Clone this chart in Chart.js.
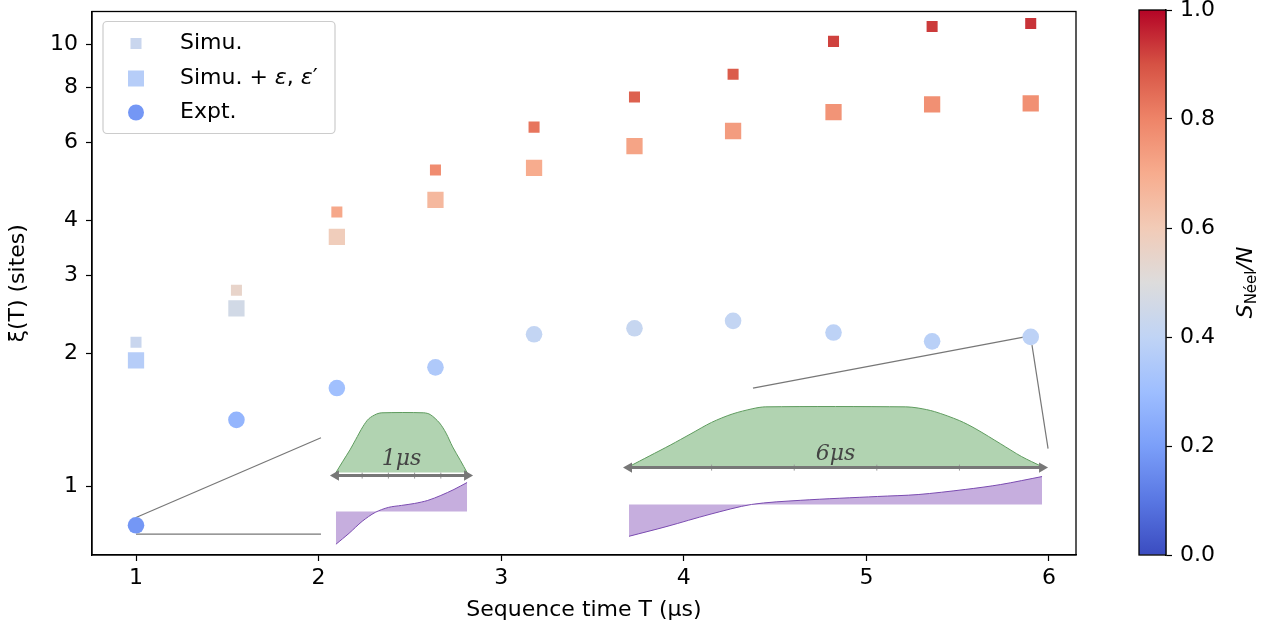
<!DOCTYPE html>
<html><head><meta charset="utf-8">
<script src="https://cdn.jsdelivr.net/npm/chart.js@4.4.1/dist/chart.umd.min.js"></script>
<style>html,body{margin:0;padding:0;background:#fff;}#wrap{position:relative;width:1266px;height:634px;}canvas{position:absolute;top:0;}</style>
</head><body><div id="wrap"><canvas id="main" width="1266" height="634" style="left:0"></canvas><canvas id="cbar" width="146" height="634" style="left:1120px"></canvas></div>
<script>
// ---- data ----
const seqTime = [1, 1.55, 2.1, 2.64, 3.18, 3.73, 4.27, 4.82, 5.36, 5.9];
const simuXi = [2.12, 2.78, 4.18, 5.20, 6.50, 7.60, 8.56, 10.16, 10.98, 11.15];
const simuEpsXi = [1.93, 2.53, 3.67, 4.45, 5.26, 5.89, 6.37, 7.03, 7.32, 7.36];
const exptXi = [0.817, 1.415, 1.67, 1.86, 2.21, 2.28, 2.37, 2.23, 2.13, 2.18];
const simuNeel = [0.43, 0.55, 0.71, 0.78, 0.83, 0.87, 0.88, 0.92, 0.93, 0.94];
const simuEpsNeel = [0.37, 0.46, 0.59, 0.66, 0.70, 0.72, 0.74, 0.76, 0.77, 0.77];
const exptNeel = [0.18, 0.27, 0.31, 0.35, 0.41, 0.42, 0.41, 0.39, 0.38, 0.39];
const yTicks = [1, 2, 3, 4, 6, 8, 10];
const xTicks = [1, 2, 3, 4, 5, 6];
const cbarTicks = [0, 0.2, 0.4, 0.6, 0.8, 1.0];
const legendLabels = ['Simu.', 'Simu. + ε, ε′', 'Expt.'];

// inset pulse shapes (normalised time, normalised amplitude)
const pulse1T = [0, .05, .107, .15, .206, .25, .31, .35, .67, .72, .79, .84, .89, .95, 1];
const pulse1Omega = [0, .18, .38, .55, .77, .9, .98, 1, 1, .97, .83, .66, .43, .2, 0];
const pulse1DeltaT = [0, .1, .2, .3, .4, .5, .6, .7, .8, .9, 1];
const pulse1Delta = [-1, -.667, -.303, -.03, .121, .182, .242, .333, .485, .667, .879];
const pulse6T = [0, .05, .1, .15, .2, .25, .3, .33, .67, .7, .74, .8, .84, .9, .95, 1];
const pulse6Omega = [0, .18, .36, .55, .74, .88, .97, 1, 1, .98, .92, .77, .63, .38, .17, 0];
const pulse6DeltaT = [0, .092, .196, .297, .416, .602, .7, .814, .9, 1];
const pulse6Delta = [-1, -.69, -.31, 0, .13, .25, .31, .47, .625, .875];
const arrowTickT = [.2, .4, .6, .8];
// inset placement in axis units: [xStart, xEnd, omegaBase, omegaTop, arrowY, deltaBase, deltaUnit]
const inset1 = [2.095, 2.813, 1.0753, 1.468, 1.0587, 0.8785, 1.0424];
const inset6 = [3.700, 5.962, 1.1092, 1.5143, 1.1035, 0.9109, 1.0753];
const zoomLine1 = [[1, 0.851], [2.013, 1.289]];
const zoomLine2 = [[1, 0.780], [2.013, 0.780]];
const zoomLine3 = [[4.379, 1.670], [5.890, 2.188]];
const zoomLine4 = [[5.907, 2.088], [5.995, 1.218]];

// ---- colormap (coolwarm) ----
const cwStops = ['#3b4cc0', '#5977e3', '#7b9ff9', '#9ebeff', '#c0d4f5', '#dddcdc', '#f2cbb7', '#f7ac8e', '#ee8468', '#d65244', '#b40426'];
function hex2rgb(h) { return [parseInt(h.slice(1, 3), 16), parseInt(h.slice(3, 5), 16), parseInt(h.slice(5, 7), 16)]; }
function cmap(v) {
  const p = Math.max(0, Math.min(1, v)) * 10;
  const i = Math.min(9, Math.floor(p)); const f = p - i;
  const a = hex2rgb(cwStops[i]), b = hex2rgb(cwStops[i + 1]);
  return 'rgb(' + a.map((c, k) => Math.round(c + (b[k] - c) * f)).join(',') + ')';
}

function placeShape(ts, vs, ins, base, unit) {
  return ts.map((t, i) => ({ x: ins[0] + t * (ins[1] - ins[0]), y: base * Math.pow(unit / base, vs[i]) }));
}
const pts = arr => seqTime.map((x, i) => ({ x, y: arr[i] }));
const seg = s => s.map(p => ({ x: p[0], y: p[1] }));

const FONT = 'DejaVu Sans';
const GREEN_F = 'rgba(120,180,120,0.58)', GREEN_L = '#5e9b5e';
const PURP_F = 'rgba(160,120,200,0.6)', PURP_L = '#7a4bb0';

function insetSets(ins) {
  const T = ins === inset1 ? pulse1T : pulse6T;
  const O = ins === inset1 ? pulse1Omega : pulse6Omega;
  const DT = ins === inset1 ? pulse1DeltaT : pulse6DeltaT;
  const D = ins === inset1 ? pulse1Delta : pulse6Delta;
  return [
    { type: 'line', data: placeShape(T, O, ins, ins[2], ins[3]), borderColor: GREEN_L, borderWidth: 1, backgroundColor: GREEN_F,
      fill: { value: ins[2] }, pointRadius: 0, tension: 0.3, order: 10 },
    { type: 'line', data: placeShape(DT, D, ins, ins[5], ins[6]), borderColor: PURP_L, borderWidth: 1, backgroundColor: PURP_F,
      fill: { value: ins[5] }, pointRadius: 0, tension: 0.3, order: 10 },
    { type: 'line', data: [{ x: ins[0], y: ins[4] }, { x: ins[1], y: ins[4] }], borderColor: '#777', borderWidth: 3,
      pointStyle: 'triangle', pointRotation: [-90, 90], pointRadius: 6, pointBackgroundColor: '#777', pointBorderWidth: 0, fill: false, order: 9 },
    { type: 'scatter', data: arrowTickT.map(t => ({ x: ins[0] + t * (ins[1] - ins[0]), y: ins[4] })), pointStyle: 'line', pointRotation: 90,
      pointRadius: 3, borderColor: '#999', borderWidth: 1, order: 9 }
  ];
}
const lineSet = s => ({ type: 'line', data: seg(s), borderColor: '#777', borderWidth: 1.2, pointRadius: 0, fill: false, order: 8 });

const framePlugin = {
  id: 'frame',
  afterDraw(chart) {
    const { ctx, chartArea: a, scales } = chart;
    ctx.save();
    ctx.strokeStyle = '#000'; ctx.lineWidth = 1.3;
    ctx.strokeRect(a.left, a.top, a.right - a.left, a.bottom - a.top);
    // inset labels
    ctx.fillStyle = '#444'; ctx.font = 'italic 22px "DejaVu Serif"'; ctx.textAlign = 'center'; ctx.textBaseline = 'middle';
    ctx.fillText('1μs', scales.x.getPixelForValue((inset1[0] + inset1[1]) / 2), scales.y.getPixelForValue(1.150));
    ctx.fillText('6μs', scales.x.getPixelForValue((inset6[0] + inset6[1]) / 2), scales.y.getPixelForValue(1.180));
    // legend
    const bx = a.left + 11, by = a.top + 10, bw = 232, bh = 112;
    ctx.beginPath();
    if (ctx.roundRect) ctx.roundRect(bx, by, bw, bh, 4); else ctx.rect(bx, by, bw, bh);
    ctx.fillStyle = 'rgba(255,255,255,0.85)'; ctx.fill();
    ctx.strokeStyle = '#cccccc'; ctx.lineWidth = 1.2; ctx.stroke();
    const mx = bx + 33, rows = [by + 22, by + 57, by + 91];
    ctx.fillStyle = cmap(simuNeel[0]); ctx.fillRect(mx - 5.5, rows[0] - 5.5, 11, 11);
    ctx.fillStyle = cmap(simuEpsNeel[0]); ctx.fillRect(mx - 8, rows[1] - 8, 16, 16);
    ctx.fillStyle = cmap(exptNeel[0]); ctx.beginPath(); ctx.arc(mx, rows[2], 8, 0, Math.PI * 2); ctx.fill();
    ctx.fillStyle = '#000'; ctx.textAlign = 'left'; ctx.textBaseline = 'middle';
    const tx = bx + 77;
    ctx.font = '22px "' + FONT + '"';
    ctx.fillText(legendLabels[0], tx, rows[0]);
    ctx.fillText(legendLabels[2], tx, rows[2]);
    // mixed style for second label
    let x = tx;
    const parts = [['Simu. + ', false], ['ε', true], [', ', false], ['ε', true], ['′', false]];
    parts.forEach(([s, it]) => {
      ctx.font = (it ? 'italic ' : '') + '22px "' + FONT + '"';
      ctx.fillText(s, x, rows[1]); x += ctx.measureText(s).width;
    });
    ctx.restore();
  }
};
const noVPad = s => { s.paddingTop = 0; s.paddingBottom = 0; };

new Chart(document.getElementById('main'), {
  type: 'scatter',
  data: {
    datasets: [
      { label: legendLabels[0], data: pts(simuXi), pointStyle: 'rect', pointRadius: 7.8, pointHoverRadius: 7.8,
        pointBackgroundColor: simuNeel.map(cmap), pointBorderWidth: 0, order: 0 },
      { label: legendLabels[1], data: pts(simuEpsXi), pointStyle: 'rect', pointRadius: 11.5, pointHoverRadius: 11.5,
        pointBackgroundColor: simuEpsNeel.map(cmap), pointBorderWidth: 0, order: 1 },
      { label: legendLabels[2], data: pts(exptXi), pointStyle: 'circle', pointRadius: 8.3, pointHoverRadius: 8.3,
        pointBackgroundColor: exptNeel.map(cmap), pointBorderWidth: 0, order: 0 },
      ...insetSets(inset1), ...insetSets(inset6),
      lineSet(zoomLine1), lineSet(zoomLine2), lineSet(zoomLine3), lineSet(zoomLine4)
    ]
  },
  options: {
    responsive: false, animation: false, devicePixelRatio: 1,
    layout: { padding: { left: 0, right: 190, top: 10, bottom: 0 } },
    plugins: { legend: { display: false }, tooltip: { enabled: false } },
    scales: {
      x: {
        type: 'linear', min: 0.759, max: 6.148,
        afterBuildTicks: s => { s.ticks = xTicks.map(v => ({ value: v })); },
        afterFit: s => { s.height = 79; s.paddingLeft = 0; s.paddingRight = 0; },
        ticks: { color: '#000', font: { family: FONT, size: 22 }, padding: 4, callback: v => String(v) },
        grid: { drawOnChartArea: false, drawTicks: true, tickLength: 6, tickColor: '#000', tickWidth: 1.2 },
        border: { display: true, color: '#000', width: 1.3 },
        title: { display: true, text: 'Sequence time T (μs)', color: '#000', font: { family: FONT, size: 22 }, padding: { top: 0, bottom: 11 } }
      },
      y: {
        type: 'logarithmic', min: 0.703, max: 11.87,
        afterBuildTicks: s => { s.ticks = yTicks.map(v => ({ value: v })); },
        afterFit: s => { s.width = 92; noVPad(s); },
        ticks: { color: '#000', font: { family: FONT, size: 22 }, padding: 8, callback: v => String(v) },
        grid: { drawOnChartArea: false, drawTicks: true, tickLength: 6, tickColor: '#000', tickWidth: 1.2 },
        border: { display: true, color: '#000', width: 1.3 },
        title: { display: true, text: 'ξ(T) (sites)', color: '#000', font: { family: FONT, size: 22 }, padding: { top: 5, bottom: 0 } }
      }
    }
  },
  plugins: [framePlugin]
});

// ---- colorbar ----
const cbarLabelPlugin = {
  id: 'cbarLabel',
  afterDraw(chart) {
    const { ctx, chartArea: a } = chart;
    ctx.save();
    ctx.strokeStyle = '#000'; ctx.lineWidth = 1.3;
    ctx.strokeRect(a.left, a.top, a.right - a.left, a.bottom - a.top);
    ctx.translate(126, (a.top + a.bottom) / 2);
    ctx.rotate(-Math.PI / 2);
    ctx.fillStyle = '#000'; ctx.textBaseline = 'middle';
    const parts = [['S', 'italic 22px', 0], ['Néel', '15px', 6], ['/N', 'italic 22px', 0]];
    let w = 0;
    parts.forEach(p => { ctx.font = p[1] + ' "' + FONT + '"'; w += ctx.measureText(p[0]).width; });
    let x = -w / 2;
    parts.forEach(p => { ctx.font = p[1] + ' "' + FONT + '"'; ctx.textAlign = 'left'; ctx.fillText(p[0], x, p[2]); x += ctx.measureText(p[0]).width; });
    ctx.restore();
  }
};
new Chart(document.getElementById('cbar'), {
  type: 'bar',
  data: {
    labels: [''],
    datasets: [{
      data: [[0, 1]], barPercentage: 1, categoryPercentage: 1, borderWidth: 0,
      backgroundColor: c => {
        const a = c.chart.chartArea; if (!a) return '#ccc';
        const g = c.chart.ctx.createLinearGradient(0, a.bottom, 0, a.top);
        cwStops.forEach((s, i) => g.addColorStop(i / 10, s));
        return g;
      }
    }]
  },
  options: {
    responsive: false, animation: false, devicePixelRatio: 1,
    layout: { padding: { left: 19, right: 0, top: 10, bottom: 79 } },
    plugins: { legend: { display: false }, tooltip: { enabled: false } },
    scales: {
      x: { display: false },
      y: {
        position: 'right', min: 0, max: 1,
        afterBuildTicks: s => { s.ticks = cbarTicks.map(v => ({ value: v })); },
        afterFit: s => { s.width = 100; noVPad(s); },
        ticks: { color: '#000', font: { family: FONT, size: 22 }, padding: 8, callback: v => v.toFixed(1) },
        grid: { drawOnChartArea: false, drawTicks: true, tickLength: 6, tickColor: '#000', tickWidth: 1.2 },
        border: { display: true, color: '#000', width: 1.3 }
      }
    }
  },
  plugins: [cbarLabelPlugin]
});
</script></body></html>
